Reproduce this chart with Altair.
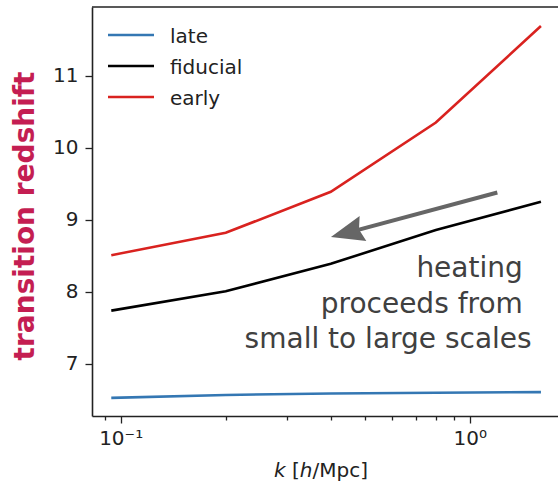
import altair as alt
import pandas as pd

# ---- data ----
k = [0.094, 0.2, 0.4, 0.8, 1.6]
late = [6.53, 6.57, 6.59, 6.60, 6.61]
fiducial = [7.74, 8.01, 8.39, 8.86, 9.25]
early = [8.51, 8.82, 9.39, 10.35, 11.69]
series_names = ["late", "fiducial", "early"]
series_colors = ["#3477b3", "#000000", "#d9221f"]
x_ticks = [0.09, 0.1, 0.2, 0.3, 0.4, 0.5, 0.6, 0.7, 0.8, 0.9, 1.0]
y_ticks = [7, 8, 9, 10, 11]
arrow_tail = [1.2, 9.38]
arrow_head = [0.445, 8.82]
annotation_lines = ["heating", "proceeds from", "small to large scales"]

W, H = 466, 409
x_dom = [0.08277, 1.7906]
y_dom = [6.278, 11.954]
FONT = "DejaVu Sans"

rows = []
for name, vals in zip(series_names, [late, fiducial, early]):
    for kk, v in zip(k, vals):
        rows.append({"k": kk, "z": v, "series": name})
df = pd.DataFrame(rows)

xs = alt.Scale(type="log", domain=x_dom, nice=False)
ys = alt.Scale(domain=y_dom, nice=False, zero=False)
cs = alt.Scale(domain=series_names, range=series_colors)

lines = alt.Chart(df).mark_line(strokeWidth=2.6).encode(
    x=alt.X("k:Q", scale=xs, title=None,
            axis=alt.Axis(values=x_ticks, grid=False,
                          labelExpr="datum.value == 0.1 ? '10⁻¹' : (datum.value == 1 ? '10⁰' : '')",
                          tickSize={"condition": {"test": "datum.value == 0.1 || datum.value == 1", "value": 7}, "value": 4},
                          labelFontSize=20, labelFont=FONT, labelColor="#222",
                          labelPadding=5, tickColor="#222", tickWidth=1.3,
                          domainColor="#222", domainWidth=1.6, labelFlush=False)),
    y=alt.Y("z:Q", scale=ys, title=None,
            axis=alt.Axis(values=y_ticks, format="d", grid=False, tickSize=7, labelFontSize=20,
                          labelFont=FONT, labelColor="#222", labelPadding=7,
                          tickColor="#222", tickWidth=1.3, domainColor="#222", domainWidth=1.6)),
    color=alt.Color("series:N", scale=cs, legend=None),
    detail="series:N",
)

arrow_df = pd.DataFrame({"kx": [arrow_tail[0]], "kx2": [arrow_head[0]],
                         "zy": [arrow_tail[1]], "zy2": [arrow_head[1]]})
arrow_line = alt.Chart(arrow_df).mark_rule(color="#666666", strokeWidth=4).encode(
    x=alt.X("kx:Q", scale=xs), x2="kx2:Q",
    y=alt.Y("zy:Q", scale=ys), y2="zy2:Q",
)
arrow_tip = alt.Chart(arrow_df).mark_point(
    shape="M-1,0L1,-0.78L0.75,0L1,0.78Z", filled=True, color="#666666",
    opacity=1, size=1100, angle=345, strokeWidth=0,
).encode(x=alt.X("kx2:Q", scale=xs), y=alt.Y("zy2:Q", scale=ys))

# annotation text
ann_x = [430.8, 430.8, 439.7]
ann_y = [270, 306, 341]
ann = []
for t, ax_, ay_ in zip(annotation_lines, ann_x, ann_y):
    ann.append(alt.Chart(pd.DataFrame({"t": [t]})).mark_text(
        font=FONT, fontSize=28, color="#404040", align="right", baseline="alphabetic"
    ).encode(x=alt.value(ax_), y=alt.value(ay_), text="t:N"))

# legend
leg = []
for i, (name, col) in enumerate(zip(series_names, series_colors)):
    yy = 28 + 31 * i
    leg.append(alt.Chart(pd.DataFrame({"t": [name]})).mark_rule(color=col, strokeWidth=2.6).encode(
        x=alt.value(16), x2=alt.value(62), y=alt.value(yy)))
    leg.append(alt.Chart(pd.DataFrame({"t": [name]})).mark_text(
        font=FONT, fontSize=20, color="#222", align="left", baseline="alphabetic"
    ).encode(x=alt.value(78), y=alt.value(yy + 8), text="t:N"))

# top spine
top_spine = alt.Chart(pd.DataFrame({"a": [0]})).mark_rule(color="#222", strokeWidth=1.6).encode(
    x=alt.value(0), x2=alt.value(W), y=alt.value(0))

# y title
ytitle = alt.Chart(pd.DataFrame({"t": ["transition redshift"]})).mark_text(
    font=FONT, fontSize=28, fontWeight="bold", color="#c41e52", angle=270,
    align="center", baseline="middle"
).encode(x=alt.value(-66), y=alt.value(209), text="t:N")

# x title pieces
xt_parts = [("k", "italic", 182), ("[", "normal", 200), ("h", "italic", 207.8), ("/Mpc]", "normal", 220.5)]
xt = []
for t, st, px in xt_parts:
    xt.append(alt.Chart(pd.DataFrame({"t": [t]})).mark_text(
        font=FONT, fontSize=20, fontStyle=st, color="#222", align="left", baseline="alphabetic"
    ).encode(x=alt.value(px), y=alt.value(470), text="t:N"))

chart = alt.layer(lines, arrow_line, arrow_tip, top_spine, ytitle, *ann, *leg, *xt).properties(
    width=W, height=H,
    padding={"left": 92, "top": 7, "right": 0, "bottom": 69},
    autosize=alt.AutoSizeParams(type="none"),
    background="white",
).configure_view(stroke=None)

chart.save("out.html", embed_options={"renderer": "svg", "actions": False})
